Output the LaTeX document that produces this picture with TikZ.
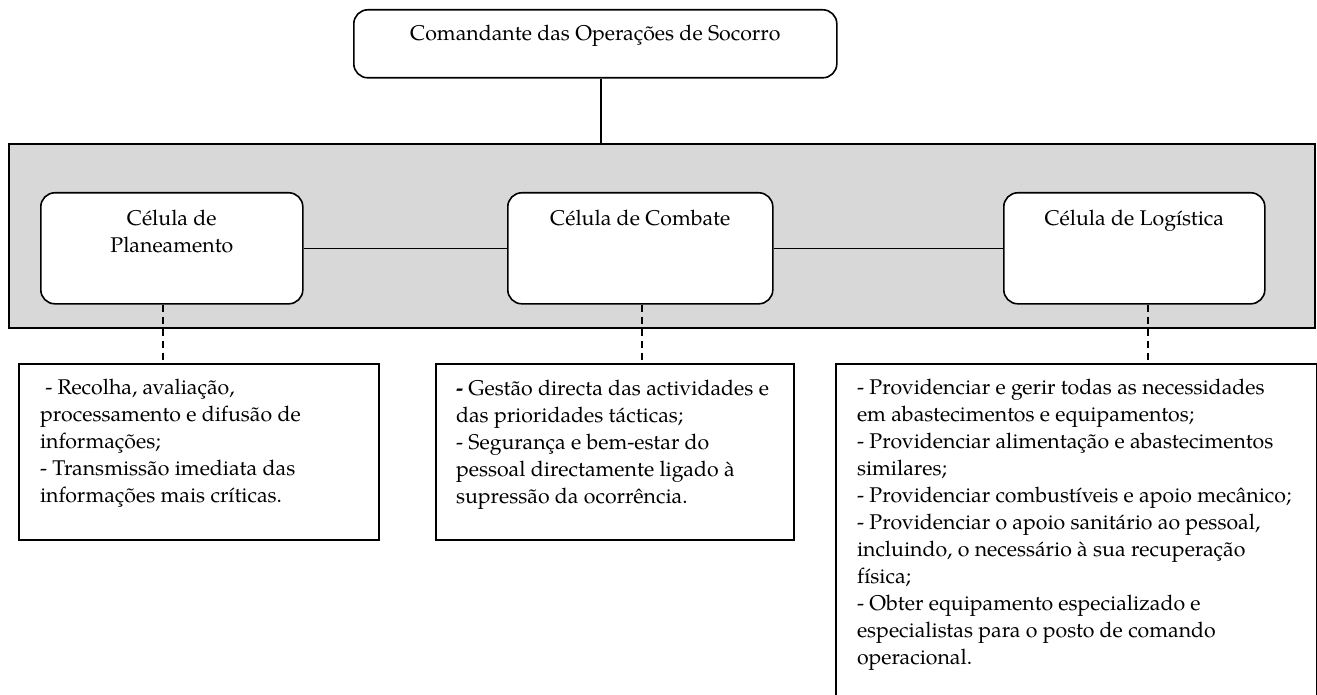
\documentclass[tikz,border=0pt]{standalone}
\usepackage{fontspec}
\setmainfont{TeX Gyre Pagella}
\definecolor{bandgray}{HTML}{D8D8D8}
% block of lines set one per row, never rewrapped
\newcommand{\linhas}[1]{\begin{tabular}[t]{@{}l@{}}#1\end{tabular}}
\begin{document}
\begin{tikzpicture}[x=1pt,y=-1pt,
  every node/.style={font=\fontsize{21.3}{27}\selectfont},
  cell/.style={draw=black, line width=1.6pt, rounded corners=14pt, fill=white,
    inner sep=0pt, anchor=north west},
  info/.style={draw=black, line width=2pt, fill=white, inner ysep=0pt,
    inner xsep=0pt, anchor=north west},
  link/.style={draw=black, line width=1.6pt},
  dlink/.style={draw=black, line width=1.6pt, dash pattern=on 7pt off 5pt},
  band/.style={draw=black, line width=1.8pt, fill=bandgray}]
\useasboundingbox (0,0) rectangle (1317,695);

% shaded band holding the three cells
\path[band] (9,144) rectangle (1315,328);

% commander
\node[cell] (cos) at (353,9)
  {\parbox[c][68pt][t]{483pt}{\centering\rule{0pt}{31pt}Comandante das Operações de Socorro}};
\coordinate (bandtop) at (601,144);
\draw[link] (cos.south -| bandtop) -- (bandtop);

% cells
\node[cell] (plan) at (40,192)
  {\parbox[c][111pt][t]{262pt}{\centering\rule{0pt}{33pt}Célula de\\Planeamento}};
\node[cell] (comb) at (507,192)
  {\parbox[c][111pt][t]{265pt}{\centering\rule{0pt}{33pt}Célula de Combate}};
\node[cell] (logi) at (1003,192)
  {\parbox[c][111pt][t]{261pt}{\centering\rule{0pt}{33pt}Célula de Logística}};

\draw[link] (plan.east) -- (comb.west);
\draw[link] (comb.east) -- (logi.west);

% task lists
\node[info] (iplan) at (18,363)
  {\hspace{21pt}\parbox[c][176pt][t]{339pt}{\rule{0pt}{30pt}\linhas{%
    \ - Recolha, avaliação,\\
    processamento e difusão de\\
    informações;\\
    - Transmissão imediata das\\
    informações mais críticas.}}};
\node[info] (icomb) at (435,363)
  {\hspace{20pt}\parbox[c][176pt][t]{338pt}{\rule{0pt}{31pt}\linhas{%
    \textbf{-} Gestão directa das actividades e\\
    das prioridades tácticas;\\
    - Segurança e bem-estar do\\
    pessoal directamente ligado à\\
    supressão da ocorrência.}}};
\node[info] (ilogi) at (835,363)
  {\hspace{21pt}\parbox[c][345pt][t]{460pt}{\rule{0pt}{30pt}\linhas{%
    - Providenciar e gerir todas as necessidades\\
    em abastecimentos e equipamentos;\\
    - Providenciar alimentação e abastecimentos\\
    similares;\\
    - Providenciar combustíveis e apoio mecânico;\\
    - Providenciar o apoio sanitário ao pessoal,\\
    incluindo, o necessário à sua recuperação\\
    física;\\
    - Obter equipamento especializado e\\
    especialistas para o posto de comando\\
    operacional.}}};

% dashed links from each cell to its task list
\draw[dlink] ([xshift=-9pt]plan.south) -- ([xshift=-9pt]plan.south |- iplan.north);
\draw[dlink] ([xshift=1.5pt]comb.south) -- ([xshift=1.5pt]comb.south |- icomb.north);
\draw[dlink] ([xshift=13.5pt]logi.south) -- ([xshift=13.5pt]logi.south |- ilogi.north);
\end{tikzpicture}
\end{document}
